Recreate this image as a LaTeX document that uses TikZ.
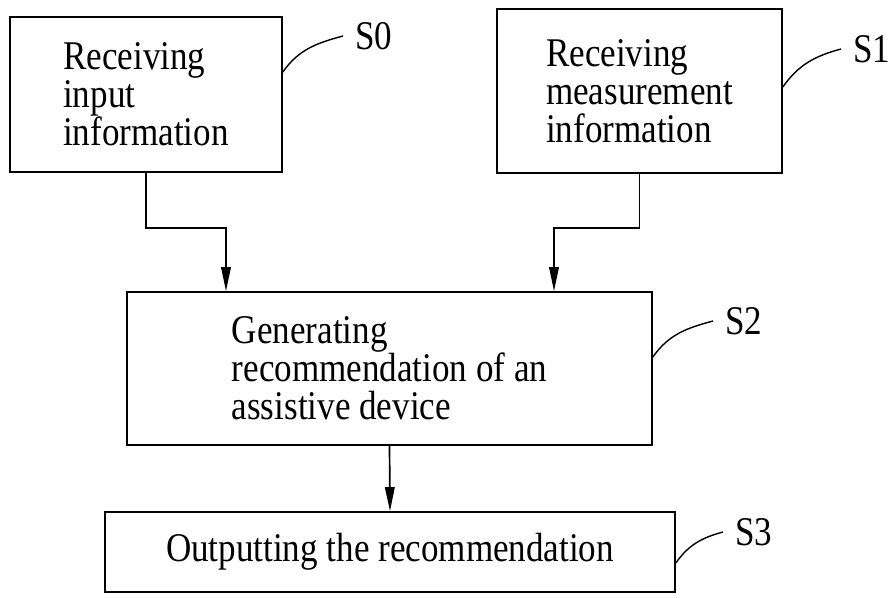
\documentclass[tikz,border=0pt]{standalone}
\usepackage{fontspec}
\setmainfont{Liberation Serif}[FakeStretch=0.86]
\usepackage{tikz}
\usetikzlibrary{arrows.meta}

\begin{document}
\begin{tikzpicture}[
  every node/.style={font=\fontsize{29}{27}\selectfont},
  stepbox/.style={draw, line width=1.2pt, align=left, inner sep=0pt},
  steplabel/.style={anchor=west, inner xsep=0.3cm, inner ysep=0pt},
  flow/.style={line width=1.2pt, -{Triangle[length=0.6cm, width=0.24cm]}}
]
\useasboundingbox (0,0) rectangle (22.375,-14.925);
\node[stepbox, minimum width=6.8cm, minimum height=3.875cm] (s0) at (3.65,-2.3625) {Receiving\\input\\information};
\node[stepbox, minimum width=7.125cm, minimum height=4.1cm] (s1) at (15.9875,-2.275) {Receiving\\measurement\\information};
\node[stepbox, minimum width=13.125cm, minimum height=3.825cm] (s2) at (9.7375,-9.2125) {Generating\\recommendation of an\\assistive device};
\node[stepbox, minimum width=14.25cm, minimum height=2cm] (s3) at (9.75,-13.8) {Outputting the recommendation};
\node[steplabel] (l0) at (8.575,-0.9) {S0};
\node[steplabel] (l1) at (21.025,-1.225) {S1};
\node[steplabel] (l2) at (17.825,-8.025) {S2};
\node[steplabel] (l3) at (18.075,-13.3) {S3};
\foreach \n/\dy in {0/0.5625, 1/0.1, 2/0.2875, 3/-0.275}
  \draw[line width=1pt] ([yshift=\dy cm]s\n.east) to[out=55,in=195] (l\n.west);
\coordinate (in0) at ([xshift=-4.0875cm]s2.north);
\coordinate (in1) at ([xshift=4.1125cm]s2.north);
\draw[flow] (s0.south) -- ++(0,-1.375) -| (in0);
\draw[flow] (s1.south) -- ++(0,-1.35) -| (in1);
\draw[flow] (s2.south) -- (s3.north);
\end{tikzpicture}
\end{document}
